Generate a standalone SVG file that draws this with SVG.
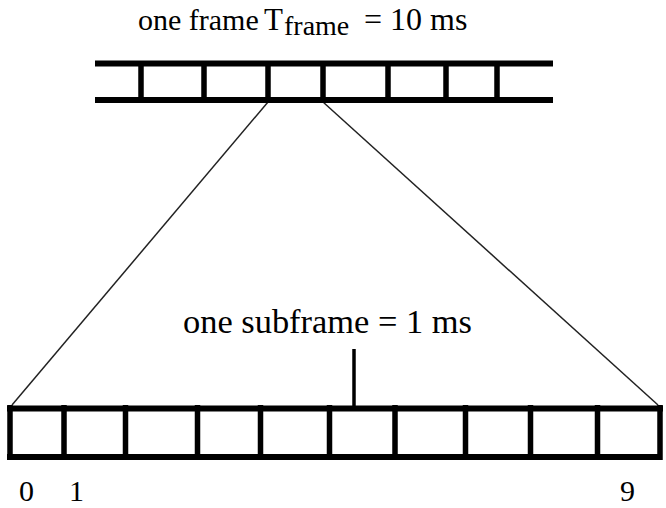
<svg xmlns="http://www.w3.org/2000/svg" width="666" height="508" viewBox="0 0 666 508">
<style>
.t{font-family:"Liberation Serif","Times New Roman",serif;fill:#000}
.thick{stroke:#000;stroke-width:6;stroke-linecap:butt;fill:none}
.bar{stroke:#000;stroke-width:5.5;fill:none}
.conn{stroke:#222;stroke-width:1.5;fill:none}
</style>
<rect width="666" height="508" fill="#fff"/>
<g id="connectors">
<line class="conn" x1="268" y1="102" x2="12" y2="405"/>
<line class="conn" x1="323" y1="102" x2="658" y2="405"/>
<line x1="354" y1="349" x2="354" y2="406" stroke="#000" stroke-width="3.5"/>
</g>
<g id="frame">
<text class="t" font-size="31"><tspan x="138" y="30" font-size="30">one frame</tspan><tspan x="264" y="30">T</tspan><tspan x="284" y="35" font-size="28">frame</tspan><tspan x="364" y="30" font-size="32">= 10 ms</tspan></text>
<line class="thick" x1="95" y1="63.5" x2="553" y2="63.5"/>
<line class="thick" x1="95" y1="100" x2="553" y2="100"/>
<path class="bar" d="M141 63V100M204 63V100M268 63V100M323 63V100M388 63V100M446 63V100M497 63V100"/>
</g>
<g id="subframe">
<text class="t" x="183" y="333" font-size="33" textLength="289" lengthAdjust="spacingAndGlyphs">one subframe = 1 ms</text>
<line class="thick" x1="7" y1="408.5" x2="663" y2="408.5" stroke-width="7"/>
<line class="thick" x1="7" y1="457" x2="660" y2="457" stroke-width="7"/>
<path class="bar" stroke-width="6" d="M10 405V460M64 405V460M125.5 405V460M197.5 405V460M260.5 405V460M329.5 405V460M395 405V460M465.5 405V460M530.5 405V460M597.5 405V460M660 405V460"/>
</g>
<g id="labels">
<text class="t" x="19" y="501" font-size="30">0</text>
<text class="t" x="69" y="501" font-size="30">1</text>
<text class="t" x="620" y="501" font-size="30">9</text>
</g>
</svg>
